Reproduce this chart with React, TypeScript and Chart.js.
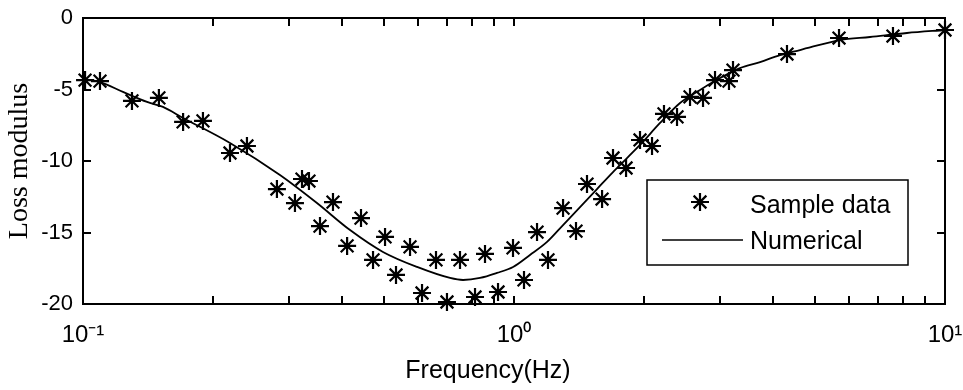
import React, { useEffect, useRef } from "react";
import { Chart, registerables } from "chart.js";

Chart.register(...registerables);

// ---- data ----
const sampleFreq = [
  0.1011, 0.1095, 0.1299, 0.15, 0.1707, 0.1898, 0.2193, 0.2401, 0.2818, 0.3103,
  0.3222, 0.3344, 0.3547, 0.3802, 0.41, 0.4416, 0.4709, 0.5021, 0.5324, 0.5738,
  0.6118, 0.6592, 0.699, 0.7494, 0.812, 0.8565, 0.9182, 0.9947, 1.0549, 1.1309,
  1.1991, 1.2996, 1.3927, 1.477, 1.6008, 1.6971, 1.8197, 1.9605, 2.0905, 2.2284,
  2.3891, 2.561, 2.7451, 2.9269, 3.1536, 3.222, 4.2992, 5.6768, 7.5733, 10.0,
];
const sampleLoss = [
  -4.34, -4.41, -5.8, -5.59, -7.27, -7.2, -9.44, -8.95, -11.96, -12.94,
  -11.26, -11.4, -14.55, -12.87, -15.94, -13.99, -16.92, -15.31, -17.97, -16.01,
  -19.23, -16.92, -19.86, -16.92, -19.51, -16.5, -19.16, -16.08, -18.32, -14.97,
  -16.92, -13.29, -14.9, -11.61, -12.66, -9.79, -10.49, -8.53, -8.95, -6.71,
  -6.92, -5.52, -5.59, -4.34, -4.41, -3.64, -2.52, -1.4, -1.26, -0.84,
];

const curveFreq = [
  0.1, 0.1095, 0.1238, 0.1408, 0.1533, 0.1707, 0.2193, 0.2864, 0.349, 0.4165,
  0.4966, 0.5957, 0.7106, 0.7616, 0.834, 0.913, 0.995, 1.089, 1.193, 1.2996,
  1.423, 1.558, 1.697, 1.762, 1.96, 2.182, 2.428, 2.702, 3.006, 3.345,
  3.723, 4.142, 4.609, 5.707, 6.7, 8.16, 10.0,
];
const curveLoss = [
  -4.27, -4.48, -5.17, -5.87, -6.22, -6.99, -8.74, -10.98, -12.94, -14.83,
  -16.36, -17.41, -18.18, -18.32, -18.18, -17.83, -17.41, -16.57, -15.66, -14.48,
  -13.22, -11.96, -10.77, -10.28, -8.88, -7.34, -5.94, -5.03, -4.2, -3.5,
  -3.08, -2.59, -2.24, -1.54, -1.33, -1.05, -0.84,
];

const xTickValues = [
  0.1, 0.2, 0.3, 0.4, 0.5, 0.6, 0.7, 0.8, 0.9,
  1, 2, 3, 4, 5, 6, 7, 8, 9, 10,
];
const yTickValues = [0, -5, -10, -15, -20];
const xPowerLabels: Record<string, string> = { "-1": "10\u207B\u00B9", "0": "10\u2070", "1": "10\u00B9" };
const seriesLabels = ["Sample data", "Numerical"];
const xTitle = "Frequency(Hz)";
const yTitle = "Loss modulus";

const SANS = "'Liberation Sans', Arial, sans-serif";
const SERIF = "'Liberation Serif', 'Times New Roman', serif";

function drawStar(ctx: CanvasRenderingContext2D, x: number, y: number, r: number) {
  const d = r * Math.SQRT1_2;
  ctx.beginPath();
  ctx.moveTo(x - r, y); ctx.lineTo(x + r, y);
  ctx.moveTo(x, y - r); ctx.lineTo(x, y + r);
  ctx.moveTo(x - d, y - d); ctx.lineTo(x + d, y + d);
  ctx.moveTo(x - d, y + d); ctx.lineTo(x + d, y - d);
  ctx.stroke();
}

const framePlugin = {
  id: "frame",
  afterDatasetsDraw(chart: any) {
    const { ctx, chartArea: a, scales } = chart;
    const xs = scales.x;
    const ys = scales.y;
    ctx.save();
    ctx.strokeStyle = "#000";
    ctx.lineWidth = 2;
    ctx.strokeRect(a.left, a.top, a.right - a.left, a.bottom - a.top);
    ctx.beginPath();
    const tl = 8;
    for (const v of xTickValues) {
      const px = Math.round(xs.getPixelForValue(v));
      ctx.moveTo(px, a.bottom); ctx.lineTo(px, a.bottom - tl);
      ctx.moveTo(px, a.top); ctx.lineTo(px, a.top + tl);
    }
    for (const v of yTickValues) {
      const py = Math.round(ys.getPixelForValue(v));
      ctx.moveTo(a.left, py); ctx.lineTo(a.left + tl, py);
      ctx.moveTo(a.right, py); ctx.lineTo(a.right - tl, py);
    }
    ctx.stroke();
    // x axis title
    ctx.fillStyle = "#000";
    ctx.font = `25px ${SANS}`;
    ctx.textAlign = "center";
    ctx.textBaseline = "alphabetic";
    ctx.fillText(xTitle, (a.left + a.right) / 2 - 26, a.bottom + 74);
    ctx.restore();
  },
};

const legendPlugin = {
  id: "insetLegend",
  afterDraw(chart: any) {
    const { ctx, chartArea: a } = chart;
    const bx = a.left + 564;
    const by = a.top + 162;
    const bw = 261;
    const bh = 85;
    ctx.save();
    ctx.fillStyle = "#fff";
    ctx.fillRect(bx, by, bw, bh);
    ctx.strokeStyle = "#000";
    ctx.lineWidth = 1.5;
    ctx.strokeRect(bx, by, bw, bh);
    ctx.lineWidth = 2.2;
    drawStar(ctx, bx + 53, by + 22, 9);
    ctx.lineWidth = 1.5;
    ctx.beginPath();
    ctx.moveTo(bx + 15, by + 60);
    ctx.lineTo(bx + 96, by + 60);
    ctx.stroke();
    ctx.fillStyle = "#000";
    ctx.font = `25px ${SANS}`;
    ctx.textAlign = "left";
    ctx.textBaseline = "alphabetic";
    ctx.fillText(chart.data.datasets[0].label, bx + 103, by + 33);
    ctx.fillText(chart.data.datasets[1].label, bx + 103, by + 69);
    ctx.restore();
  },
};

export default function App() {
  const ref = useRef<HTMLCanvasElement | null>(null);

  useEffect(() => {
    if (!ref.current) return;
    const chart = new Chart(ref.current, {
      type: "scatter",
      data: {
        datasets: [
          {
            label: seriesLabels[0],
            data: sampleFreq.map((f, i) => ({ x: f, y: sampleLoss[i] })),
            showLine: false,
            pointStyle: "star",
            pointRadius: 9,
            pointBorderWidth: 2.2,
            borderColor: "#000",
            backgroundColor: "#000",
            clip: false,
          } as any,
          {
            label: seriesLabels[1],
            data: curveFreq.map((f, i) => ({ x: f, y: curveLoss[i] })),
            showLine: true,
            pointRadius: 0,
            borderColor: "#000",
            borderWidth: 1.8,
            cubicInterpolationMode: "monotone",
          } as any,
        ],
      },
      options: {
        animation: false,
        responsive: false,
        events: [],
        layout: { padding: { top: 18, right: 18, left: 0, bottom: 0 } },
        plugins: {
          legend: { display: false },
          tooltip: { enabled: false },
        },
        scales: {
          x: {
            type: "logarithmic",
            min: 0.1,
            max: 10,
            position: "bottom",
            border: { display: false },
            grid: { display: false, drawTicks: false },
            afterFit: (s: any) => {
              s.height = 86;
              s.paddingLeft = 0;
              s.paddingRight = 0;
            },
            ticks: {
              autoSkip: false,
              maxRotation: 0,
              padding: 17,
              color: "#000",
              font: { family: SANS, size: 24 },
              callback: (v: any) => {
                const e = Math.log10(Number(v));
                if (Math.abs(e - Math.round(e)) < 1e-6) return xPowerLabels[String(Math.round(e))] ?? "";
                return "";
              },
            },
          },
          y: {
            type: "linear",
            min: -20,
            max: 0,
            border: { display: false },
            grid: { display: false, drawTicks: false },
            afterFit: (s: any) => {
              s.width = 83;
              s.paddingTop = 0;
              s.paddingBottom = 0;
            },
            title: {
              display: true,
              text: yTitle,
              color: "#000",
              padding: { top: 3, bottom: 0 },
              font: { family: SERIF, size: 28 },
            },
            ticks: {
              stepSize: 5,
              padding: 10,
              color: "#000",
              font: { family: SANS, size: 22 },
            },
          },
        },
      },
      plugins: [framePlugin, legendPlugin],
    });
    return () => chart.destroy();
  }, []);

  return (
    <div style={{ position: "fixed", left: 0, top: 0, width: 963, height: 390, background: "#fff" }}>
      <canvas ref={ref} width={963} height={390} style={{ display: "block" }} />
    </div>
  );
}
